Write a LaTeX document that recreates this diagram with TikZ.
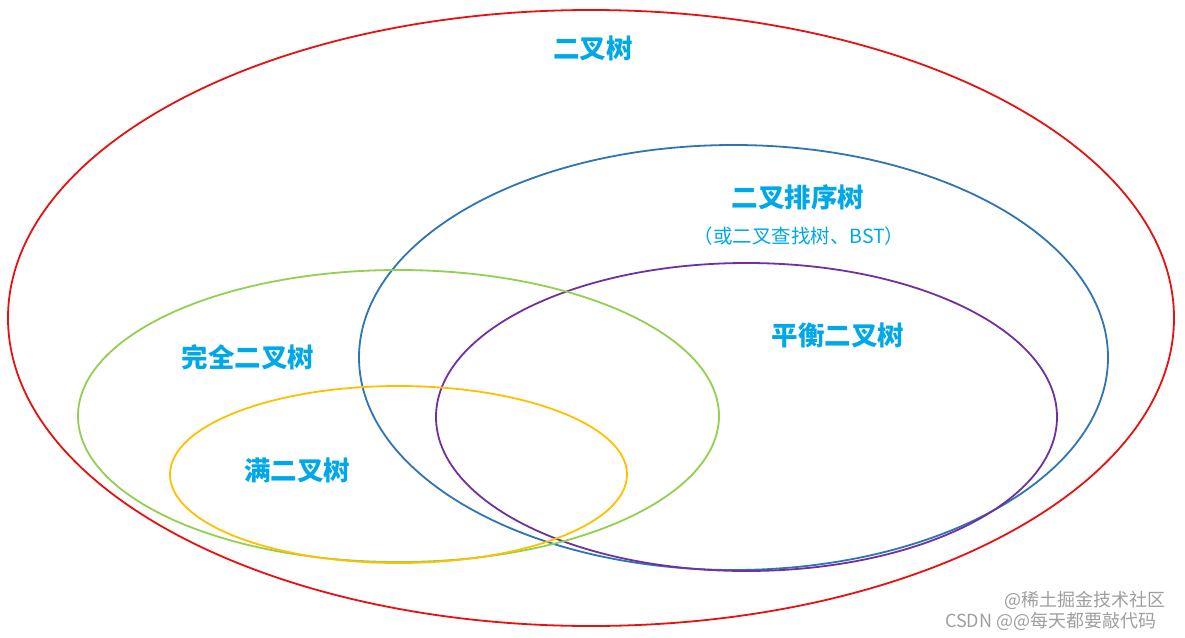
\documentclass[tikz,border=0pt]{standalone}
\usepackage{fontspec}
\newfontfamily\cjk{Noto Sans CJK SC}
\definecolor{lblue}{HTML}{00A8E8}
\definecolor{cred}{HTML}{E81010}
\definecolor{cblue}{HTML}{2E75B6}
\definecolor{cpurple}{HTML}{7030A0}
\definecolor{cgreen}{HTML}{92D050}
\definecolor{cyellow}{HTML}{FFC000}
\tikzset{
  setbox/.style={line width=1.8pt},
  title/.style={text=lblue, font=\cjk\bfseries\fontsize{26.5}{28}\selectfont, inner sep=0pt},
  subtitle/.style={text=lblue, font=\cjk\fontsize{19.5}{22}\selectfont, inner sep=0pt},
  wm/.style={text=gray!75, font=\cjk\fontsize{18}{20}\selectfont, inner sep=0pt, anchor=west},
}
\begin{document}
\begin{tikzpicture}[x=1pt,y=-1pt]
\useasboundingbox (0,0) rectangle (1185,637);
\fill[white] (0,0) rectangle (1185,637);
\draw[setbox, cred] (591,318) ellipse [x radius=583, y radius=308];
\draw[setbox, cblue] (733.5,357.5) ellipse [x radius=374.5, y radius=212.5];
\draw[setbox, cpurple] (746.5,417) ellipse [x radius=310.5, y radius=154];
\draw[setbox, cgreen] (398.5,416) ellipse [x radius=320.5, y radius=146];
\draw[setbox, cyellow] (398.5,474.5) ellipse [x radius=228.5, y radius=88.5];
\node[title] (bt) at (593,48) {二叉树};
\node[title] (bst) at (798,197) {二叉排序树};
\node[subtitle] (bstsub) at (799,236) {（或二叉查找树、BST）};
\node[title] (avl) at (838,335) {平衡二叉树};
\node[title] (cbt) at (248,357) {完全二叉树};
\node[title] (fbt) at (297,470) {满二叉树};
\node[wm] (wm1) at (1004,600) {@稀土掘金技术社区};
\node[wm] (wm2) at (945,621) {CSDN @@每天都要敲代码};
\end{tikzpicture}
\end{document}
